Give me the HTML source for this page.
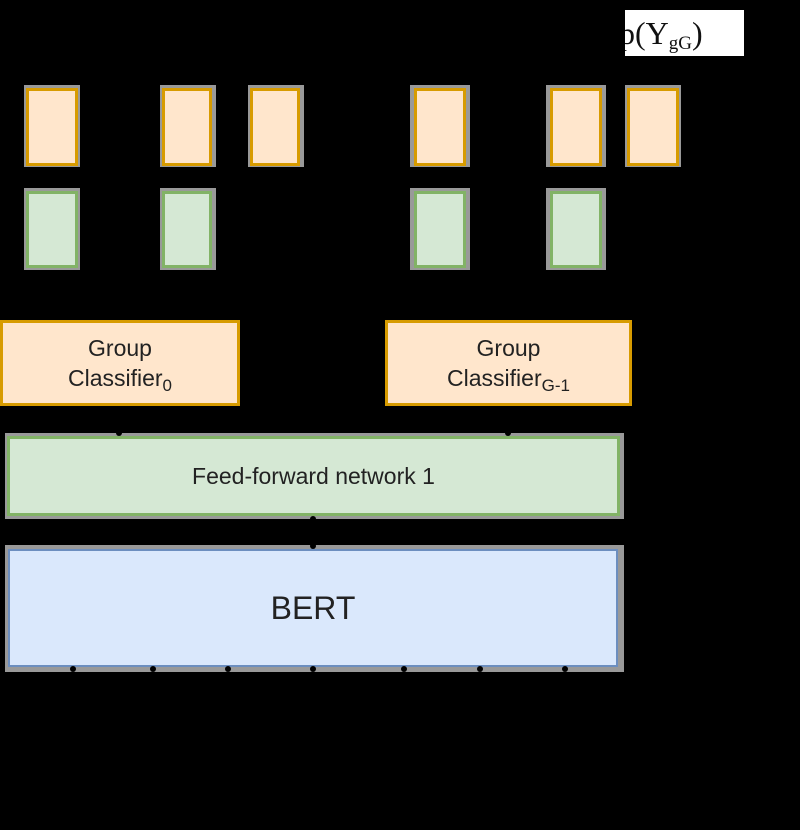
<!DOCTYPE html>
<html><head><style>
body{margin:0;width:800px;height:830px;background:#000;position:relative;overflow:hidden;font-family:"Liberation Sans",sans-serif}
.b{position:absolute;box-sizing:border-box}
.h{background:#999}
.o{background:#ffe6cc;border:3px solid #d79b00}
.g{background:#d5e8d4;border:3px solid #82b366}
.t{display:flex;align-items:center;justify-content:center;text-align:center;color:#222}
.d{position:absolute;width:6px;height:6px;background:#000;border-radius:50%}
sub{vertical-align:-5px;line-height:0}
</style></head><body>
<div class="b" style="left:625px;top:10px;width:119px;height:46px;background:#fff;font-family:'Liberation Serif',serif;font-size:32px;line-height:46px;overflow:hidden;color:#111;white-space:nowrap"><span style="margin-left:-6px">p(Y<sub style="font-size:19px">gG</sub>)</span></div>

<div class="b h" style="left:24px;top:85px;width:56px;height:82px"></div><div class="b o" style="left:26px;top:88px;width:52px;height:78px"></div>
<div class="b h" style="left:160px;top:85px;width:56px;height:82px"></div><div class="b o" style="left:162px;top:88px;width:50px;height:78px"></div>
<div class="b h" style="left:248px;top:85px;width:56px;height:82px"></div><div class="b o" style="left:250px;top:88px;width:50px;height:78px"></div>
<div class="b h" style="left:410px;top:85px;width:60px;height:82px"></div><div class="b o" style="left:414px;top:88px;width:52px;height:78px"></div>
<div class="b h" style="left:546px;top:85px;width:60px;height:82px"></div><div class="b o" style="left:550px;top:88px;width:52px;height:78px"></div>
<div class="b h" style="left:625px;top:85px;width:56px;height:82px"></div><div class="b o" style="left:627px;top:88px;width:52px;height:78px"></div>

<div class="b h" style="left:24px;top:188px;width:56px;height:82px"></div><div class="b g" style="left:26px;top:191px;width:52px;height:77px"></div>
<div class="b h" style="left:160px;top:188px;width:56px;height:82px"></div><div class="b g" style="left:162px;top:191px;width:50px;height:77px"></div>
<div class="b h" style="left:410px;top:188px;width:60px;height:82px"></div><div class="b g" style="left:414px;top:191px;width:52px;height:77px"></div>
<div class="b h" style="left:546px;top:188px;width:60px;height:82px"></div><div class="b g" style="left:550px;top:191px;width:52px;height:77px"></div>

<div class="b o t" style="left:0;top:320px;width:240px;height:86px;font-size:23px;line-height:30px"><div>Group<br>Classifier<sub style="font-size:17px">0</sub></div></div>
<div class="b o t" style="left:385px;top:320px;width:247px;height:86px;font-size:23px;line-height:30px"><div>Group<br>Classifier<sub style="font-size:17px">G-1</sub></div></div>

<div class="b h" style="left:5px;top:433px;width:619px;height:86px"></div>
<div class="b g t" style="left:7px;top:436px;width:613px;height:80px;font-size:23px">Feed-forward network 1</div>
<div class="b h" style="left:5px;top:545px;width:619px;height:127px"></div>
<div class="b t" style="left:8px;top:549px;width:610px;height:118px;background:#dae8fc;border:2px solid #6c8ebf;font-size:32px">BERT</div>

<div class="d" style="left:116px;top:430px"></div><div class="d" style="left:505px;top:430px"></div>
<div class="d" style="left:310px;top:516px"></div><div class="d" style="left:310px;top:543px"></div>
<div class="d" style="left:70px;top:666px"></div><div class="d" style="left:150px;top:666px"></div><div class="d" style="left:225px;top:666px"></div><div class="d" style="left:310px;top:666px"></div><div class="d" style="left:401px;top:666px"></div><div class="d" style="left:477px;top:666px"></div><div class="d" style="left:562px;top:666px"></div>
</body></html>
